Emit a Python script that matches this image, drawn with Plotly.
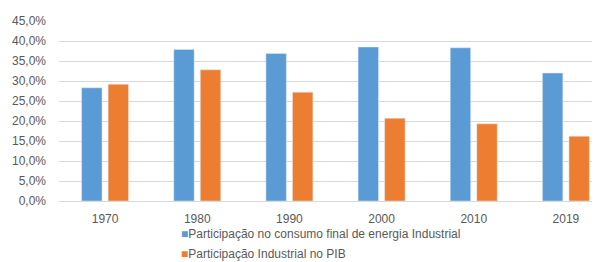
import plotly.graph_objects as go

years = ["1970", "1980", "1990", "2000", "2010", "2019"]
energia = [28.3, 37.9, 36.9, 38.5, 38.3, 32.0]
pib = [29.2, 32.8, 27.2, 20.7, 19.3, 16.2]
name_energia = "Participação no consumo final de energia Industrial"
name_pib = "Participação Industrial no PIB"
y_ticks = [0, 5, 10, 15, 20, 25, 30, 35, 40, 45]
y_ticktext = [f"{v:.1f}%".replace(".", ",") for v in y_ticks]

blue = "#5B9BD5"
orange = "#ED7D31"
font = "Liberation Sans"

fig = go.Figure()
fig.add_trace(go.Bar(x=years, y=energia, name=name_energia, marker_color=blue,
                     offset=-0.255, width=0.222, showlegend=False))
fig.add_trace(go.Bar(x=years, y=pib, name=name_pib, marker_color=orange,
                     offset=0.033, width=0.222, showlegend=False))
# legend entries (square swatch written into the text)
fig.add_trace(go.Scatter(x=[None], y=[None], mode="markers",
                         name=f'<span style="color:{blue}">■</span>{name_energia}',
                         marker=dict(symbol="square", size=1, color="rgba(0,0,0,0)"),
                         legendgroup="a"))
fig.add_trace(go.Scatter(x=[None], y=[None], mode="markers",
                         name=f'<span style="color:{orange}">■</span>{name_pib}',
                         marker=dict(symbol="square", size=1, color="rgba(0,0,0,0)"),
                         legendgroup="b"))

fig.update_layout(
    width=592, height=254,
    margin=dict(l=51, r=0, t=13, b=61, autoexpand=False),
    plot_bgcolor="white", paper_bgcolor="white",
    barmode="overlay",
    font=dict(family=font, size=12, color="#595959"),
    xaxis=dict(type="category", range=[-0.5, 5.37], showgrid=False,
               showline=True, linecolor="#d9d9d9", linewidth=1,
               ticks="", tickangle=0, ticklabelstandoff=7,
               tickfont=dict(size=12, color="#595959")),
    yaxis=dict(range=[0, 45], tickvals=y_ticks, ticktext=y_ticktext,
               showgrid=True, gridcolor="#d9d9d9", gridwidth=1,
               zeroline=False, showline=False, ticks="",
               ticklabelstandoff=12, tickfont=dict(size=12, color="#595959")),
    legend=dict(orientation="v", xref="container", yref="container",
                x=133 / 592, y=0.171, xanchor="left", yanchor="top",
                traceorder="grouped", tracegroupgap=1,
                itemwidth=30, font=dict(size=12, color="#595959"),
                bgcolor="rgba(0,0,0,0)"),
)
fig.write_html("out.html")
